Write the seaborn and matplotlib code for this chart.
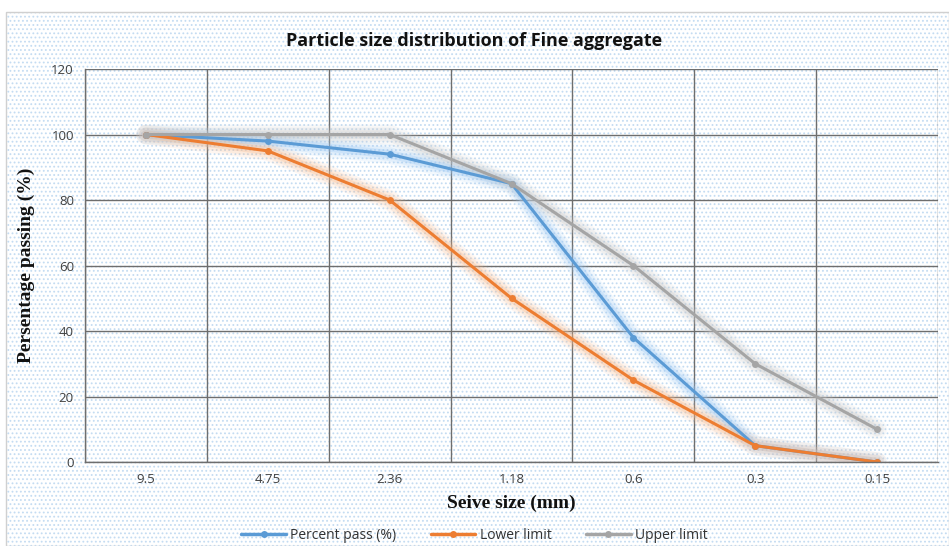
import matplotlib
matplotlib.use("Agg")
import matplotlib.pyplot as plt
from matplotlib.patches import Rectangle
import seaborn as sns
import pandas as pd

# Sieve sizes (mm) and percent passing for each series
sieve_sizes = ["9.5", "4.75", "2.36", "1.18", "0.6", "0.3", "0.15"]
percent_pass = [100, 98, 94, 85, 38, 5, 0]
lower_limit = [100, 95, 80, 50, 25, 5, 0]
upper_limit = [100, 100, 100, 85, 60, 30, 10]

series_names = ["Percent pass (%)", "Lower limit", "Upper limit"]
series_values = [percent_pass, lower_limit, upper_limit]
colors = ["#5B9BD5", "#ED7D31", "#A5A5A5"]
glow_colors = ["#9CC9F5", "#F7B98C", "#C8C8C8"]

rows = []
for name, vals in zip(series_names, series_values):
    for s, v in zip(sieve_sizes, vals):
        rows.append({"Sieve": s, "Passing": v, "Series": name})
df = pd.DataFrame(rows)

sns.set_theme(style="white")
plt.rcParams["font.family"] = ["Open Sans", "DejaVu Sans"]
plt.rcParams["hatch.linewidth"] = 0.8

fig = plt.figure(figsize=(9.49, 5.46), dpi=100)
fig.patch.set_facecolor("white")

# Chart area: light dotted fill and a thin grey border
dots = Rectangle((0.006, 0.0), 0.994, 0.978, transform=fig.transFigure,
                 facecolor="white", edgecolor="#C4DCF2", linewidth=0,
                 hatch="....", zorder=-10)
fig.patches.append(dots)
border = Rectangle((0.006, 0.0), 0.994, 0.978, transform=fig.transFigure,
                   facecolor="none", edgecolor="#D0D0D0", linewidth=1.0,
                   zorder=-9)
fig.patches.append(border)

ax = fig.add_axes([0.0896, 0.1538, 0.8988, 0.7198])
ax.set_facecolor("none")

palette = dict(zip(series_names, colors))
glow_palette = dict(zip(series_names, glow_colors))

# Soft glow under each line
for width, alpha in [(14, 0.12), (10, 0.18), (6, 0.3)]:
    sns.lineplot(data=df, x="Sieve", y="Passing", hue="Series", palette=glow_palette,
                 sort=False, linewidth=width, alpha=alpha, legend=False, ax=ax,
                 solid_capstyle="round", solid_joinstyle="round")

sns.lineplot(data=df, x="Sieve", y="Passing", hue="Series", palette=palette,
             sort=False, linewidth=2.2, marker="o", markersize=5,
             markeredgewidth=0, legend=False, ax=ax)

ax.set_xlim(-0.5, len(sieve_sizes) - 0.5)
ax.set_ylim(0, 120)
ax.set_yticks(range(0, 121, 20))
ax.set_xticks(range(len(sieve_sizes)))
ax.set_xticklabels(sieve_sizes)
ax.set_xticks([i + 0.5 for i in range(-1, len(sieve_sizes))], minor=True)
ax.grid(True, which="major", axis="y", color="#6E6E6E", linewidth=1.0)
ax.grid(True, which="minor", axis="x", color="#6E6E6E", linewidth=1.0)
ax.grid(False, which="major", axis="x")
ax.tick_params(axis="both", which="both", length=0, labelsize=9.5,
               labelcolor="#404040", pad=8)
for side in ["top", "right"]:
    ax.spines[side].set_visible(False)
for side in ["left", "bottom"]:
    ax.spines[side].set_color("#6E6E6E")
    ax.spines[side].set_linewidth(1.0)

ax.set_xlabel("Seive size (mm)", family="Liberation Serif", fontweight="bold",
              fontsize=14, color="#111111", labelpad=6)
ax.set_ylabel("Persentage passing (%)", family="Liberation Serif", fontweight="bold",
              fontsize=14, color="#111111", labelpad=12)

fig.text(0.5, 0.925, "Particle size distribution of Fine aggregate",
         ha="center", va="center", fontsize=13, fontweight="bold",
         family=["Open Sans", "DejaVu Sans"], color="#111111")

handles = [plt.Line2D([], [], color=c, linewidth=2.5, marker="o", markersize=5,
                      markeredgewidth=0) for c in colors]
fig.legend(handles, series_names, loc="center", bbox_to_anchor=(0.5, 0.02),
           ncol=3, frameon=False, fontsize=10, handlelength=3.2,
           columnspacing=2.5, handletextpad=0.3, labelcolor="#333333")

fig.savefig("out.png", dpi=100)
